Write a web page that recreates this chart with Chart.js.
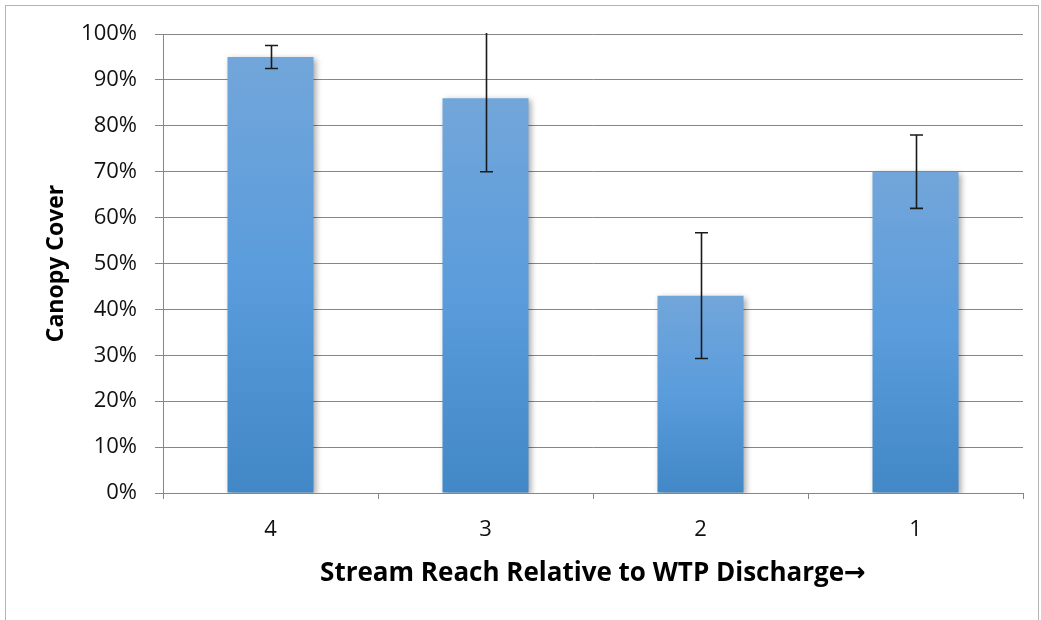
<!DOCTYPE html>
<html>
<head>
<meta charset="utf-8">
<script src="https://cdn.jsdelivr.net/npm/chart.js@4"></script>
<style>
  html, body { margin: 0; padding: 0; background: #fff; }
  #frame { position: absolute; left: 5px; top: 5px; width: 1034px; height: 700px;
           border: 1.5px solid #b4b4b4; box-sizing: border-box; }
  #chart { position: absolute; left: 0; top: 0; }
</style>
</head>
<body>
<div id="frame"></div>
<canvas id="chart" width="1041" height="620"></canvas>
<script>
const reaches   = ['4', '3', '2', '1'];
const cover     = [95, 86, 43, 70];
const coverErr  = [2.5, 16, 13.7, 8];
const yTicks    = [0, 10, 20, 30, 40, 50, 60, 70, 80, 90, 100];

const FONT = "'Open Sans', 'DejaVu Sans', sans-serif";

function barGradient(c) {
  const chart = c.chart;
  if (!chart.chartArea || c.type !== 'data') return '#5b9bd5';
  const y  = chart.scales.y;
  const top = y.getPixelForValue(c.raw);
  const bot = y.getPixelForValue(0);
  const g = chart.ctx.createLinearGradient(0, top, 0, bot);
  g.addColorStop(0,   '#72a6da');
  g.addColorStop(0.5, '#5a9cdc');
  g.addColorStop(1,   '#4287c6');
  return g;
}

const barShadow = {
  id: 'barShadow',
  beforeDatasetsDraw(chart) {
    const ctx = chart.ctx;
    ctx.save();
    ctx.shadowColor   = 'rgba(0,0,0,0.35)';
    ctx.shadowBlur    = 6;
    ctx.shadowOffsetX = 2;
    ctx.shadowOffsetY = 2;
  },
  afterDatasetsDraw(chart) {
    chart.ctx.restore();
  }
};

const errorBars = {
  id: 'errorBars',
  afterDatasetsDraw(chart) {
    const ctx  = chart.ctx;
    const meta = chart.getDatasetMeta(0);
    const y    = chart.scales.y;
    const area = chart.chartArea;
    ctx.save();
    ctx.beginPath();
    ctx.rect(area.left, area.top - 1, area.right - area.left, area.bottom - area.top + 2);
    ctx.clip();
    ctx.strokeStyle = '#1a1a1a';
    ctx.lineWidth = 1.6;
    meta.data.forEach((bar, i) => {
      const hi = y.getPixelForValue(cover[i] + coverErr[i]);
      const lo = y.getPixelForValue(cover[i] - coverErr[i]);
      const x  = Math.round(bar.x) + 0.5;
      ctx.beginPath();
      ctx.moveTo(x, hi); ctx.lineTo(x, lo);
      ctx.moveTo(x - 6.5, lo); ctx.lineTo(x + 6.5, lo);
      if (cover[i] + coverErr[i] <= 100) {
        ctx.moveTo(x - 6.5, hi); ctx.lineTo(x + 6.5, hi);
      }
      ctx.stroke();
    });
    ctx.restore();
  }
};

new Chart(document.getElementById('chart'), {
  type: 'bar',
  data: {
    labels: reaches,
    datasets: [{
      data: cover,
      backgroundColor: barGradient,
      borderWidth: 0,
      categoryPercentage: 1,
      barPercentage: 0.4,
    }]
  },
  options: {
    responsive: false,
    animation: false,
    layout: { padding: { left: 0, top: 34, right: 18, bottom: 0 } },
    plugins: {
      legend: { display: false },
      tooltip: { enabled: false },
    },
    scales: {
      x: {
        afterFit: s => { s.height = 127; },
        grid: { drawOnChartArea: false, drawTicks: true, tickLength: 6, color: '#868686', offset: true },
        border: { display: true, color: '#868686' },
        ticks: { color: '#111', font: { family: FONT, size: 22 }, padding: 18 },
        title: {
          display: true,
          text: 'Stream Reach Relative to WTP Discharge→',
          color: '#000',
          font: { family: FONT, size: 26, weight: 'bold' },
          padding: { top: 0, bottom: 31 },
        },
      },
      y: {
        min: 0,
        max: 100,
        afterFit: s => { s.width = 163; },
        afterBuildTicks: s => { s.ticks = yTicks.map(v => ({ value: v })); },
        grid: { color: '#868686', tickLength: 8 },
        border: { display: true, color: '#868686' },
        ticks: {
          color: '#111',
          font: { family: FONT, size: 22 },
          padding: 18,
          callback: v => v + '%',
        },
        title: {
          display: true,
          text: 'Canopy Cover',
          color: '#000',
          font: { family: FONT, size: 23, weight: 'bold' },
          padding: { top: 43, bottom: 0 },
        },
      },
    },
  },
  plugins: [barShadow, errorBars],
});
</script>
</body>
</html>
